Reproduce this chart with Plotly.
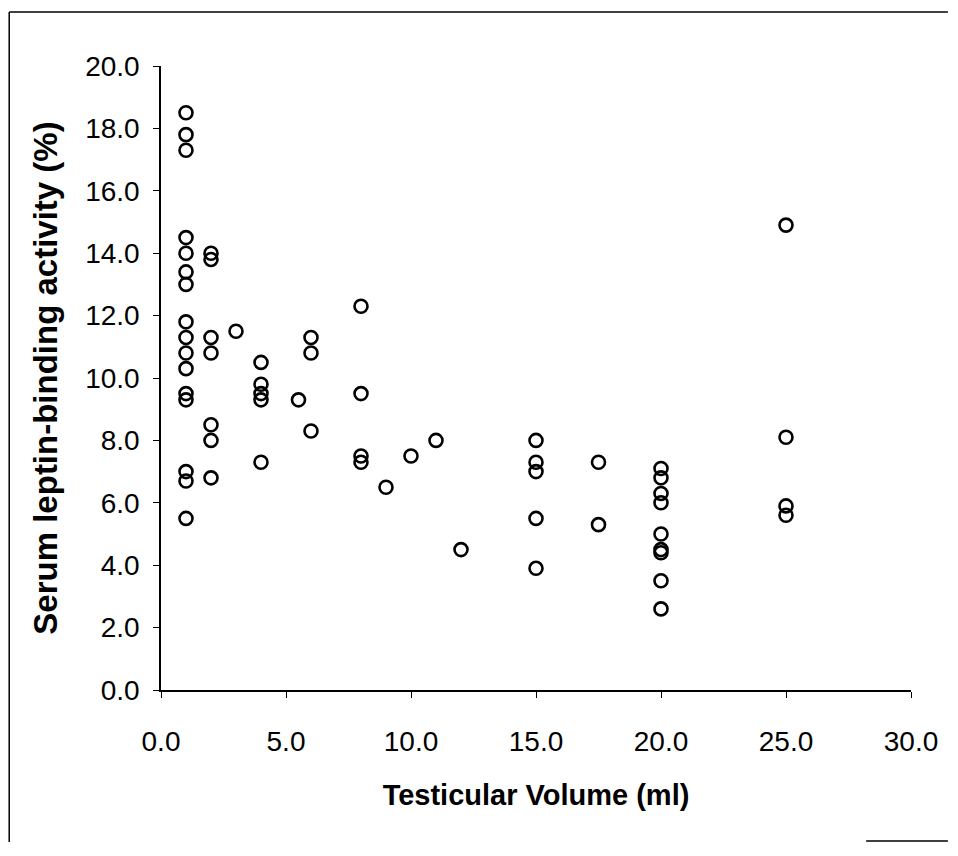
import plotly.graph_objects as go

# Testicular volume (ml) and serum leptin-binding activity (%)
volume = [
    1, 1, 1, 1, 1, 1, 1, 1, 1, 1, 1, 1, 1, 1, 1, 1,
    2, 2, 2, 2, 2, 2, 2,
    3,
    4, 4, 4, 4, 4,
    5.5,
    6, 6, 6,
    8, 8, 8, 8,
    9, 10, 11, 12,
    15, 15, 15, 15, 15,
    17.5, 17.5,
    20, 20, 20, 20, 20, 20, 20, 20, 20,
    25, 25, 25, 25,
]
binding = [
    18.5, 17.8, 17.3, 14.5, 14.0, 13.4, 13.0, 11.8, 11.3, 10.8, 10.3, 9.5, 9.3, 7.0, 6.7, 5.5,
    14.0, 13.8, 11.3, 10.8, 8.5, 8.0, 6.8,
    11.5,
    10.5, 9.8, 9.5, 9.3, 7.3,
    9.3,
    11.3, 10.8, 8.3,
    12.3, 9.5, 7.5, 7.3,
    6.5, 7.5, 8.0, 4.5,
    8.0, 7.3, 7.0, 5.5, 3.9,
    7.3, 5.3,
    7.1, 6.8, 6.3, 6.0, 5.0, 4.5, 4.4, 3.5, 2.6,
    14.9, 8.1, 5.9, 5.6,
]

# page body adds an 8px margin, so the figure is sized to fit inside it
W, H = 942, 834
L, R, T, B = 153, 37, 58, 152
font = "Liberation Sans, Arial, sans-serif"

fig = go.Figure(go.Scatter(
    x=volume, y=binding, mode="markers",
    marker=dict(symbol="circle-open", size=13, color="black", line=dict(width=2.6, color="black")),
    hoverinfo="x+y",
))

axis_common = dict(
    showline=True, linecolor="black", linewidth=1.5, showgrid=False, zeroline=False,
    ticks="outside", ticklen=6, tickwidth=1.2, tickcolor="black", tickformat=".1f",
    tickfont=dict(family=font, size=28, color="black"),
)
fig.update_xaxes(range=[0, 30], dtick=5, ticklabelstandoff=20,
                 title=dict(text="<b>Testicular Volume (ml)</b>", standoff=28,
                            font=dict(family=font, size=29, color="black")),
                 **axis_common)
fig.update_yaxes(range=[0, 20], dtick=2, ticklabelstandoff=8,
                 title=dict(text="<b>Serum leptin-binding activity (%)</b>", standoff=18,
                            font=dict(family=font, size=33, color="black")),
                 **axis_common)

# outer frame around the chart (top, left, partial bottom-right)
pw, ph = W - L - R, H - T - B
def px(x): return (x - L) / pw
def py(y): return (H - B - y) / ph
line = dict(color="black", width=1.5)
fig.add_shape(type="line", xref="paper", yref="paper", x0=px(0.8), x1=px(W), y0=py(4), y1=py(4), line=line)
fig.add_shape(type="line", xref="paper", yref="paper", x0=px(0.8), x1=px(0.8), y0=py(4), y1=py(H), line=line)
fig.add_shape(type="line", xref="paper", yref="paper", x0=px(860), x1=px(W), y0=py(H - 1), y1=py(H - 1), line=line)

fig.update_layout(
    width=W, height=H, margin=dict(l=L, r=R, t=T, b=B),
    paper_bgcolor="white", plot_bgcolor="white", showlegend=False,
)
fig.write_html("out.html")
